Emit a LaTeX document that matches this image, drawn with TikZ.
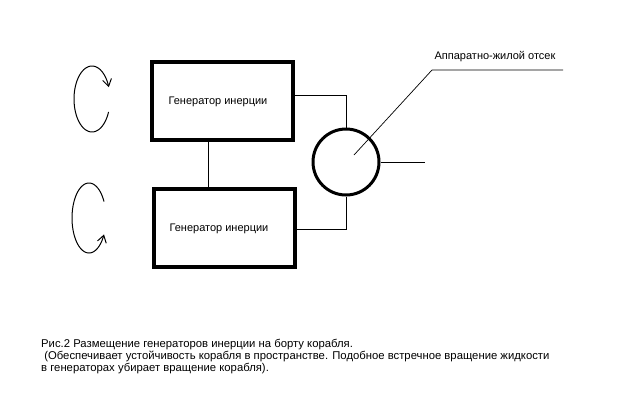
\documentclass[tikz,border=0pt]{standalone}
\usepackage{fontspec}
\setmainfont{Liberation Sans}
\usetikzlibrary{arrows.meta,calc}
\begin{document}
\begin{tikzpicture}[x=1pt,y=-1pt,
  every node/.style={font=\fontsize{11}{13}\selectfont},
  capline/.style={anchor=base west,inner sep=0pt,font=\fontsize{11.3}{13}\selectfont},
  genbox/.style={draw,line width=4pt,minimum width=141pt,minimum height=78pt,inner sep=0pt},
  wire/.style={line width=1pt},
  rot/.style={line width=1pt,-{Straight Barb[length=7pt,width=9pt,line width=1pt]}}
]
\useasboundingbox[fill=white] (0,0) rectangle (640,400);
% boxes
\node[genbox] (g1) at (222.5,101) {};
\node[genbox] (g2) at (224.5,227.5) {};
\node (t1) at (218,102) {Генератор инерции};
\node (t2) at (219,229) {Генератор инерции};
% compartment
\node[draw,circle,line width=3pt,minimum size=66pt,inner sep=0pt] (c) at (346,162) {};
% helper coordinates
\coordinate (v) at (208,0);
\coordinate (w1) at (0,95);
\coordinate (w2) at (0,229);
\coordinate (out) at (425,162);
\draw[wire] (g1.south -| v) -- (g2.north -| v);
\draw[wire] (g1.east |- w1) -| (c.north);
\draw[wire] (c.south) |- (g2.east |- w2);
\draw[wire] (c.east) -- (out);
% leader and label
\coordinate (p) at (354,155);
\coordinate (k) at (432,70);
\coordinate (ke) at (563,70);
\draw[line width=0.7pt] (p) -- (k) -- (ke);
\node (lab) at (495,57) {Аппаратно-жилой отсек};
% rotation arrows
\draw[rot] plot[smooth,samples=60,domain=23:339] ({92+18*cos(\x)},{99+33*sin(\x)});
\draw[rot] plot[smooth,samples=60,domain=-28:-332] ({89+17*cos(\x)},{218+35*sin(\x)});
% caption
\node[capline] (cap1) at (41,347) {Рис.2 Размещение генераторов инерции на борту корабля.};
\node[capline] (cap2) at (41,359) {\ (Обеспечивает устойчивость корабля в пространстве. Подобное встречное вращение жидкости};
\node[capline] (cap3) at (41,371) {в генераторах убирает вращение корабля).};
\end{tikzpicture}
\end{document}
